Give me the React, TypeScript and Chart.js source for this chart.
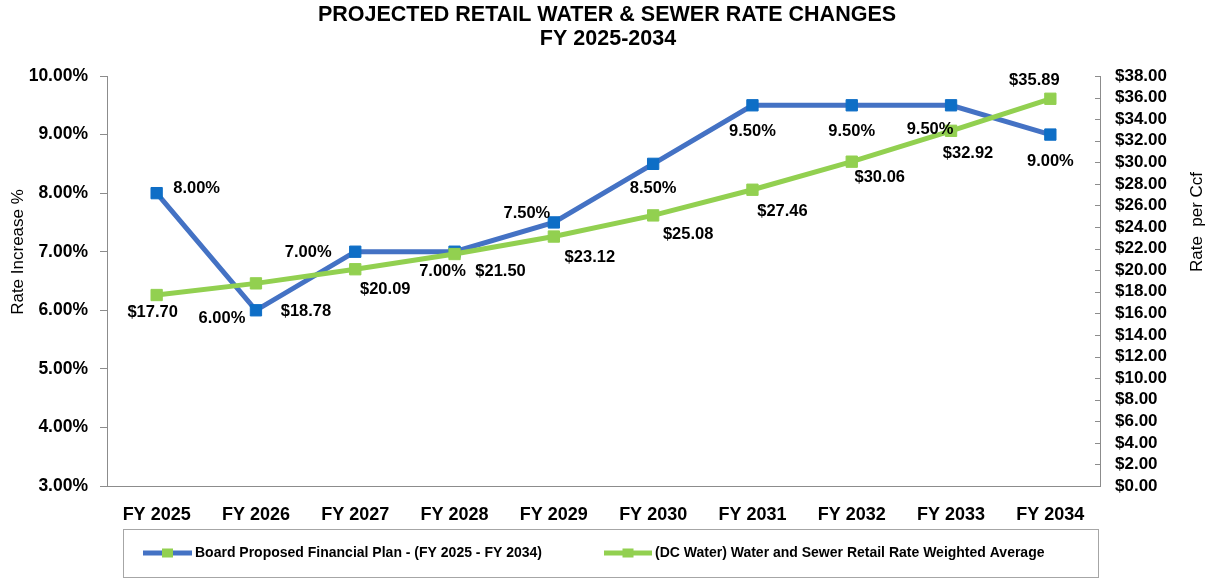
import React, { useEffect, useRef } from "react";
import { Chart, registerables } from "chart.js";

Chart.register(...registerables);

const CATEGORIES = ["FY 2025", "FY 2026", "FY 2027", "FY 2028", "FY 2029", "FY 2030", "FY 2031", "FY 2032", "FY 2033", "FY 2034"];
const RATE_INCREASE = [8.0, 6.0, 7.0, 7.0, 7.5, 8.5, 9.5, 9.5, 9.5, 9.0];
const RATE_PER_CCF = [17.7, 18.78, 20.09, 21.5, 23.12, 25.08, 27.46, 30.06, 32.92, 35.89];
const SERIES_NAMES = ["Board Proposed Financial Plan - (FY 2025 - FY 2034)", "(DC Water) Water and Sewer Retail Rate Weighted Average"];
const TITLE_LINES = ["PROJECTED RETAIL WATER & SEWER RATE CHANGES", "FY 2025-2034"];
const LEFT_AXIS_TITLE = "Rate Increase %";
const RIGHT_AXIS_TITLE = "Rate  per Ccf";

// label placement offsets (style only)
const BLUE_LABEL_OFFSETS = [[40, -5], [-34, 8], [-47, 1], [-12, 20], [-27, -9], [0, 25], [0, 26], [0, 26], [-21, 24], [0, 27]];
const GREEN_LABEL_OFFSETS = [[-4, 17], [50, 28], [30, 20], [46, 17], [36, 21], [35, 19], [30, 22], [28, 16], [17, 23], [-16, -18]];

const BLUE_LINE = "#4472C4";
const BLUE_MARK = "#0E6EC6";
const GREEN = "#92D050";
const AXIS_GRAY = "#8C8C8C";
const FONT = '"Liberation Sans", Arial, sans-serif';

const overlayPlugin = {
  id: "overlay",
  afterDatasetsDraw(chart: any) {
    const ctx = chart.ctx;
    ctx.save();
    ctx.font = `bold 16.5px ${FONT}`;
    ctx.fillStyle = "#000";
    ctx.textAlign = "center";
    ctx.textBaseline = "middle";
    chart.getDatasetMeta(0).data.forEach((pt: any, i: number) => {
      const o = BLUE_LABEL_OFFSETS[i];
      ctx.fillText(RATE_INCREASE[i].toFixed(2) + "%", pt.x + o[0], pt.y + o[1]);
    });
    chart.getDatasetMeta(1).data.forEach((pt: any, i: number) => {
      const o = GREEN_LABEL_OFFSETS[i];
      ctx.fillText("$" + RATE_PER_CCF[i].toFixed(2), pt.x + o[0], pt.y + o[1]);
    });
    ctx.restore();
  },
  afterDraw(chart: any) {
    const ctx = chart.ctx;
    const area = chart.chartArea;
    ctx.save();
    // title
    ctx.fillStyle = "#000";
    ctx.textAlign = "center";
    ctx.textBaseline = "middle";
    ctx.font = `bold 21.5px ${FONT}`;
    ctx.fillText(TITLE_LINES[0], 607, 15);
    ctx.fillText(TITLE_LINES[1], 608, 39);

    // axis titles
    ctx.font = `17px ${FONT}`;
    ctx.save();
    ctx.translate(18, 252);
    ctx.rotate(-Math.PI / 2);
    ctx.fillText(LEFT_AXIS_TITLE, 0, 0);
    ctx.restore();
    ctx.save();
    ctx.translate(1197, 222);
    ctx.rotate(-Math.PI / 2);
    ctx.fillText(RIGHT_AXIS_TITLE, 0, 0);
    ctx.restore();

    // right axis inward tick marks
    const y1 = chart.scales.y1;
    ctx.strokeStyle = AXIS_GRAY;
    ctx.lineWidth = 1;
    y1.ticks.forEach((t: any) => {
      const py = Math.round(y1.getPixelForValue(t.value)) + 0.5;
      ctx.beginPath();
      ctx.moveTo(area.right - 5, py);
      ctx.lineTo(area.right, py);
      ctx.stroke();
    });

    // legend
    const lx = 123, ly = 529, lw = 975, lh = 48;
    ctx.strokeStyle = "#A6A6A6";
    ctx.lineWidth = 1;
    ctx.strokeRect(lx + 0.5, ly + 0.5, lw, lh);
    const cy = ly + 24;
    const items = [
      { x0: 143, x1: 192, line: BLUE_LINE, mark: GREEN, text: SERIES_NAMES[0] },
      { x0: 604, x1: 652, line: GREEN, mark: GREEN, text: SERIES_NAMES[1] },
    ];
    ctx.font = `bold 14px ${FONT}`;
    ctx.textAlign = "left";
    items.forEach((it) => {
      ctx.strokeStyle = it.line;
      ctx.lineWidth = 5;
      ctx.beginPath();
      ctx.moveTo(it.x0, cy);
      ctx.lineTo(it.x1, cy);
      ctx.stroke();
      ctx.fillStyle = it.mark;
      const mx = (it.x0 + it.x1) / 2;
      ctx.fillRect(mx - 5.5, cy - 4.5, 11, 9);
      ctx.fillStyle = "#000";
      ctx.fillText(it.text, it.x1 + 3, cy);
    });
    ctx.restore();
  },
};

export default function App() {
  const ref = useRef<HTMLCanvasElement>(null);
  useEffect(() => {
    if (!ref.current) return;
    const chart = new Chart(ref.current, {
      type: "line",
      data: {
        labels: CATEGORIES,
        datasets: [
          {
            label: SERIES_NAMES[0],
            data: RATE_INCREASE,
            yAxisID: "y",
            borderColor: BLUE_LINE,
            backgroundColor: BLUE_MARK,
            borderWidth: 5,
            pointStyle: "rect",
            pointRadius: 8,
            pointBorderWidth: 1,
            pointBorderColor: BLUE_MARK,
            pointBackgroundColor: BLUE_MARK,
            tension: 0,
            order: 1,
          },
          {
            label: SERIES_NAMES[1],
            data: RATE_PER_CCF,
            yAxisID: "y1",
            borderColor: GREEN,
            backgroundColor: GREEN,
            borderWidth: 5,
            pointStyle: "rect",
            pointRadius: 8,
            pointBorderWidth: 1,
            pointBorderColor: GREEN,
            pointBackgroundColor: GREEN,
            tension: 0,
            order: 0,
          },
        ],
      },
      options: {
        responsive: false,
        animation: false,
        devicePixelRatio: 1,
        layout: { padding: { top: 76, bottom: 54, left: 0, right: 0 } },
        plugins: {
          legend: { display: false },
          title: { display: false },
          tooltip: { enabled: false },
        },
        scales: {
          x: {
            offset: true,
            grid: { display: false },
            border: { display: true, color: AXIS_GRAY, width: 1 },
            ticks: { color: "#000", font: { family: FONT, size: 18, weight: "bold" }, padding: 10, maxRotation: 0, autoSkip: false },
            afterFit: (s: any) => { s.height = 40; },
          },
          y: {
            position: "left",
            min: 3,
            max: 10,
            grid: { display: true, drawOnChartArea: false, drawTicks: true, tickLength: 7, color: AXIS_GRAY },
            border: { display: true, color: AXIS_GRAY, width: 1 },
            ticks: {
              stepSize: 1,
              color: "#000",
              padding: 12,
              autoSkip: false,
              font: { family: FONT, size: 17.5, weight: "bold" },
              callback: (v: any) => Number(v).toFixed(2) + "%",
            },
            afterFit: (s: any) => { s.width = 107; },
          },
          y1: {
            position: "right",
            min: 0,
            max: 38,
            grid: { display: false },
            border: { display: true, color: AXIS_GRAY, width: 1 },
            ticks: {
              stepSize: 2,
              color: "#000",
              padding: 7,
              autoSkip: false,
              font: { family: FONT, size: 17, weight: "bold" },
              callback: (v: any) => "$" + Number(v).toFixed(2),
            },
            afterFit: (s: any) => { s.width = 112; },
          },
        },
      },
      plugins: [overlayPlugin],
    });
    return () => chart.destroy();
  }, []);
  return (
    <div style={{ position: "fixed", left: 0, top: 0, width: 1212, height: 580, background: "#fff" }}>
      <canvas ref={ref} width={1212} height={580} />
    </div>
  );
}
